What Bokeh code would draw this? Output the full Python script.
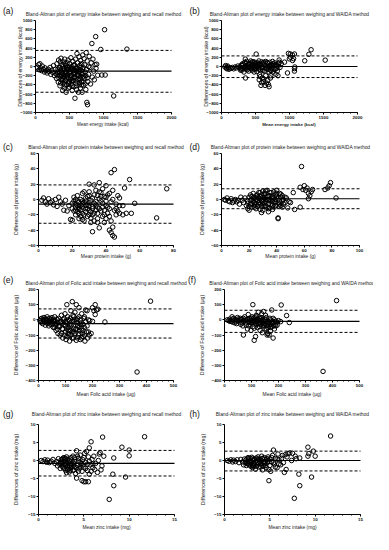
import math
from bokeh.plotting import figure
from bokeh.models import Label, FixedTicker, LinearAxis, Range1d
from bokeh.layouts import column, row
from bokeh.embed import file_html
from bokeh.resources import INLINE

FONT = "Liberation Sans"

# ---------------- data (mean of two methods, difference) ----------------
energy_recall_pts = [
    (30,-20),(45,40),(55,-70),(65,60),(75,-30),(90,-90),(100,10),(115,-60),(130,-120),(140,-30),
    (155,-90),(170,-140),(185,-60),(200,-110),(215,-20),(225,-170),(240,-80),(255,-130),(265,20),
    (280,-200),(290,-60),(300,-160),
    (310,-260),(315,60),(325,-120),(335,-340),(340,140),(350,-20),(355,-200),(360,-420),(370,-80),
    (375,180),(380,-290),(390,40),(395,-160),(400,-520),(405,-360),(410,100),(415,-230),(420,-40),
    (425,-470),(430,160),(435,-120),(440,-300),(445,20),(450,-560),(455,-190),(460,-400),(465,80),
    (470,-70),(475,-250),(480,140),(485,-340),(490,-10),(495,-150),(500,-450),(505,60),(510,-280),
    (515,-100),(520,190),(525,-380),(530,-200),(535,0),(540,-520),(545,-60),(550,110),(555,-310),
    (560,-150),(565,-440),(570,40),(575,-240),(580,-690),(585,-90),(590,160),(595,-360),(600,-30),
    (605,-500),(610,280),(615,-190),(620,80),(625,-280),(630,-560),(635,-120),(640,210),(645,-400),
    (650,20),(655,-220),(660,-470),(665,130),(670,-80),(675,-330),(680,60),(685,-560),(690,-180),
    (695,250),(700,-20),
    (705,-410),(715,170),(720,-260),(730,-120),(740,-500),(745,300),(750,-60),(755,-780),(760,120),
    (765,-830),(770,-330),(780,-170),(790,220),(800,-20),(810,-380),(820,80),(829,500),(835,-230),
    (845,160),(855,-100),(865,-290),(875,40),(885,650),(890,-40),(900,50),(915,-190),(960,370),
    (975,-185),(1016,800),(1025,-185),(1150,-640),(1344,378),
    (330,-60),(345,-250),(365,100),(385,-130),(400,-10),(420,-180),(440,60),(460,-230),(480,-60),
    (500,-120),(520,-40),(540,-300),(560,20),(580,-160),(600,-100),(620,-40),(640,-260),(660,-20),
    (700,-150),(720,40),(680,-400),(740,-200),(780,0),
    (360,-30),(380,-200),(400,-300),(410,-80),(430,-400),(450,-120),(470,-180),(490,-380),(510,-200),
    (530,-60),(550,-250),(570,-120),(590,-300),(610,-80),(630,-200),(650,-350),(670,-150),(690,-50),
    (710,-210),(450,-30),(390,-250),(500,-330),(560,-90),(620,-170),(520,-250),(470,-10),(430,-220),
    (350,-130),(580,-230),(640,-60),(660,-280),(600,-420),(540,-420),(480,-470),(420,-340),(370,-360),
    (320,-180),(700,-330),(760,-250),(730,-380),
]
energy_recall_lines = [-100, 350, -560]   # bias, upper LoA, lower LoA

energy_waida_pts = [
    (50,-10),(60,20),(70,-30),(80,-50),(90,10),(100,-20),(110,-60),(125,-30),(140,-40),(160,-20),
    (180,-50),(200,-10),(220,-30),(240,10),(260,-20),(280,-50),
    (290,30),(300,-80),(310,60),(320,-30),(330,-120),(340,90),(350,0),(360,-60),(370,110),(380,-20),
    (390,40),(400,-100),(410,70),(420,-40),(430,120),(440,10),(450,-80),(460,50),(470,-20),(480,100),
    (490,-60),(500,20),(510,270),(520,-110),(530,80),(540,-30),(550,120),(555,-290),(560,40),(570,-70),
    (580,-410),(590,100),(600,-20),(610,60),(620,-330),(630,-100),(640,20),(650,110),(660,-360),
    (670,-50),(680,70),(690,-390),(700,-440),(705,-10),(710,90),(720,-80),(725,-200),(730,40),
    (740,-30),(750,110),(760,-120),(770,20),(780,80),(790,-60),(800,-170),(810,30),(820,-100),
    (830,-200),(840,60),(847,140),(860,-20),(880,60),(350,160),(353,-250),(280,-80),(300,20),
    (450,100),(520,0),(600,-60),(700,-120),(650,-200),(600,-250),(560,-180),(760,60),(450,-30),
    (400,40),(480,-120),(540,60),(620,90),(680,-10),
    (300,-40),(320,40),(340,-20),(360,70),(380,-70),(400,0),(420,60),(440,-50),(460,100),(480,-10),
    (500,70),(510,-40),(530,20),(550,-60),(570,60),(590,-20),(610,-90),(630,50),(650,-30),(670,90),
    (690,-60),(710,20),(730,-90),(750,30),(770,-60),(790,40),(810,-40),(830,0),(850,90),(620,-270),
    (680,-300),(640,-410),(590,-350),(720,-250),(570,-220),
    (927,95),(970,-140),(984,286),(998,166),(1012,271),(1016,200),(1045,250),(1045,130),(1073,272),
    (1060,170),(1073,-46),(1073,-100),(1078,-10),(1224,124),(1285,265),(1318,364),(1525,138),
]
energy_waida_lines = [0, 230, -240]

protein_recall_pts = [
    (2,-1),(3,2),(4,-3),(5,-6),(6,1),(7,-4),(8,-2),(9,-7),(10,0),(11,-9),(12,3),(13,-3),(14,-6),
    (15,-14),(16,-1),(17,-15),(18,-8),(19,-26),
    (20,-5),(20,-27),(21,-15),(21,3),(22,-10),(22,-20),(23,5),(23,-2),(24,-12),(24,-25),(25,0),
    (25,-8),(26,-18),(26,8),(27,-4),(27,-28),(28,-12),(28,2),(29,-22),(29,-6),(30,10),(30,20),
    (30,-14),(31,-1),(31,-30),(32,-42),(32,-9),(33,6),(33,19),(33,-18),(34,-3),(34,12),(35,-25),
    (35,-10),(36,22),(36,1),(36,-37),(37,-15),(37,9),(38,-5),(38,14),(39,-20),(39,-30),(40,18),
    (40,3),(41,-10),(41,-18),(42,-40),(42,8),(43,35),(43,-43),(43,-3),(44,-36),(44,-47),(44,12),
    (45,-49),(45,39),(46,-20),(46,-6),(47,5),(48,-18),(48,-8),(50,-8),(51,15),(52,-18),(54,26),
    (55,-18),(57,-5),(70,-24),(76,14),
    (22,-6),(24,-3),(26,-10),(28,-8),(30,-4),(32,-12),(34,-7),(26,-2),(28,-16),(30,-20),(32,2),
    (35,5),(38,-10),(40,-8),(25,-22),(27,10),(29,4),(31,-24),(33,-28),(37,-2),(39,4),(42,-12),
    (45,-14),(40,-25),(47,-15),(50,-20),(35,-30),(23,-16),
    (20,-12),(21,-2),(22,-14),(23,-8),(24,-18),(25,-14),(26,-6),(27,-20),(28,-2),(29,-12),(30,-8),
    (31,-16),(32,-20),(33,-5),(34,-14),(35,-18),(36,-12),(37,4),(38,-22),(39,-14),(40,-2),(41,6),
    (42,-22),(43,-28),(44,0),(46,-12),(48,2),(36,10),(30,5),(26,-26),(24,-10),(22,0),
]
protein_recall_lines = [-6, 19, -31]

protein_waida_pts = [
    (2,0),(3,-1),(4,2),(5,-2),(6,-3),(7,1),(8,-4),(9,-2),(10,0),(11,-3),(12,-1),(13,-6),(14,3),
    (15,-1),(16,-4),(17,2),
    (18,-8),(19,-2),(19,-12),(20,3),(20,-14),(21,-6),(21,6),(22,0),(22,-10),(23,-3),(23,8),(24,-7),
    (24,2),(25,-12),(25,5),(26,-1),(26,-9),(27,9),(27,-4),(28,1),(28,-13),(29,-17),(29,6),(30,-6),
    (30,11),(30,-14),(31,2),(31,-9),(32,8),(32,-3),(33,12),(33,0),(34,-16),(34,-6),(35,5),(35,-11),
    (36,-1),(36,9),(37,3),(37,-13),(38,-4),(38,10),(39,0),(39,-8),(40,12),(40,4),(41,-25),(41,-24),
    (41,-5),(42,8),(42,-2),(43,3),(43,-8),(44,-10),(44,5),(45,0),(46,-4),(47,2),(48,-11),(49,-3),
    (50,-4),(52,9),(53,-13),(57,-10),(57,16),(58,43),(59,13),(60,18),(61,12),(62,15),(63,8),(63,1),
    (64,5),(65,10),(66,13),(75,13),(77,15),(78,18),(79,22),(83,2),
    (22,4),(24,-4),(26,3),(28,-6),(30,0),(32,-8),(34,4),(36,-6),(38,2),(25,-5),(27,2),(29,-2),
    (31,7),(33,-10),(35,0),(37,-8),(39,6),(42,-6),(30,-3),(34,-1),
    (19,-5),(20,-9),(21,-1),(22,-6),(23,2),(24,-10),(25,0),(26,6),(27,-7),(28,4),(29,-9),(30,3),
    (31,-4),(32,0),(33,4),(34,-12),(35,9),(36,2),(37,-2),(38,-10),(39,-3),(40,8),(41,1),(42,-9),
    (43,7),(44,-2),(45,-6),(46,3),(28,9),(32,11),
]
protein_waida_lines = [1, 14, -12]

folic_recall_pts = [
    (5,-5),(8,5),(10,-15),(12,10),(15,-25),(18,0),(20,15),(22,-10),(25,-35),(28,5),(30,-20),(32,20),
    (35,-5),(38,-40),(40,10),(42,-15),(45,-30),(48,0),(50,15),(52,-25),(55,-50),(58,-5),(60,20),
    (62,-35),(65,-70),(68,5),(70,-20),(72,-90),(75,10),(78,-45),(80,-100),
    (82,-10),(85,30),(88,-60),(90,-120),(92,0),(95,-30),(98,40),(100,-80),(102,-130),(105,100),
    (105,-20),(108,20),(110,-50),(112,-100),(115,-140),(118,10),(120,60),(122,-30),(125,120),
    (125,-80),(128,30),(130,-120),(132,-10),(135,50),(138,-60),(140,100),(140,-135),(142,0),
    (145,-40),(148,-100),(150,80),(150,20),(152,-70),(155,-130),(158,-20),(160,40),(162,-90),
    (165,-110),(168,10),(170,-50),(172,-140),(175,65),(178,-80),(180,60),(182,-120),(185,0),
    (188,-100),(190,-5),(195,-90),(200,80),(200,-10),(205,60),(210,100),(210,35),(215,65),(220,70),
    (246,-14),(365,-344),(415,123),
    (90,-20),(95,10),(100,-10),(105,-60),(110,0),(115,-30),(120,-100),(125,-10),(130,20),(135,-90),
    (140,-20),(145,10),(150,-50),(155,0),(160,-60),(165,-30),(170,20),(130,-60),(110,-90),(120,-70),
    (20,-10),(25,5),(30,0),(35,-25),(40,-10),(45,5),(50,-15),(55,0),(60,-10),(65,-30),(70,0),(75,-40),
    (80,-20),(85,-90),(90,-60),(95,-100),(100,-40),(105,-110),(110,-70),(115,-5),(120,-40),
    (125,-120),(130,-80),(135,0),(140,-60),(145,-120),(150,-90),(155,-30),(160,-120),(165,-70),
    (170,-100),(175,-10),(180,-40),(185,-80),(60,-50),(70,-60),
]
folic_recall_lines = [-25, 72, -120]

folic_waida_pts = [
    (10,0),(15,-5),(20,5),(25,-10),(28,20),(30,-15),(35,10),(38,-20),(40,0),(45,-25),(48,15),(50,-5),
    (55,-15),(58,10),(60,-30),(65,5),(68,-40),(70,-100),(72,-10),(75,20),(78,-20),(80,0),(85,-60),
    (88,35),(90,-15),
    (92,10),(95,-30),(98,-70),(100,-5),(102,20),(105,100),(105,-45),(108,0),(110,-135),(112,-20),
    (115,-110),(118,30),(120,-10),(122,-50),(125,50),(128,-20),(130,10),(132,-70),(135,-30),(138,40),
    (140,-85),(142,0),(145,55),(148,-40),(150,-10),(152,30),(155,-60),(158,-100),(160,-90),(162,-20),
    (165,-100),(168,10),(170,-50),(172,-30),(175,65),(178,-10),(180,-120),(182,-40),(185,0),(188,-30),
    (190,-40),(195,-15),(200,-5),(208,-12),(210,98),(230,28),(240,-18),(365,-340),(415,127),
    (95,5),(100,-20),(110,15),(115,-10),(120,5),(125,-25),(130,-5),(135,15),(140,-15),(145,-5),
    (150,-25),(155,15),(160,-5),(165,-40),(170,0),(175,-20),(180,10),(130,-45),(110,-55),(150,-60),
    (20,-10),(30,5),(40,-10),(50,5),(60,0),(65,-20),(70,10),(75,-5),(80,-35),(85,5),(90,-40),(95,-15),
    (100,10),(105,-20),(110,-5),(115,20),(120,-30),(125,0),(130,-20),(135,5),(140,-40),(145,-25),
    (150,5),(155,-35),(160,-50),(165,-15),(170,-75),(175,-45),(180,-20),(185,-60),(190,-10),(195,-35),
]
folic_waida_lines = [-10, 63, -83]

zinc_recall_pts = [
    (0.3,0),(0.5,-0.3),(0.7,0.2),(0.9,-0.5),(1.0,0.1),(1.2,-0.6),(1.4,-0.2),(1.6,0.3),(1.8,-0.8),
    (2.0,-0.3),(2.1,-1.5),(2.2,0.5),
    (2.3,-1.0),(2.4,-2.2),(2.5,0.2),(2.6,-0.6),(2.7,-1.8),(2.8,0.8),(2.9,-1.2),(3.0,-2.8),(3.0,-0.2),
    (3.1,1.0),(3.2,-1.6),(3.3,-0.5),(3.4,-3.2),(3.5,0.4),(3.6,-2.0),(3.7,-1.0),(3.8,1.2),(3.9,-2.6),
    (4.0,-0.3),(4.1,-3.6),(4.2,2.7),(4.2,-4.9),(4.3,-1.4),(4.4,0.6),(4.5,-2.3),(4.6,1.5),(4.7,-0.8),
    (4.8,-5.6),(4.8,-3.0),(4.9,0.2),(5.0,-5.9),(5.0,-1.8),(5.1,2.0),(5.2,-5.9),(5.2,-0.5),(5.3,2.5),
    (5.4,-2.8),(5.5,-5.9),(5.5,1.0),(5.6,3.5),(5.6,-3.8),(5.7,-1.2),(5.8,5.2),(5.9,0.3),(6.0,-2.0),
    (6.1,1.2),(6.2,-2.5),(6.3,-0.8),(6.5,-3.3),(6.6,0.0),(6.7,1.8),(6.8,2.2),(6.9,-2.6),(7.0,-1.5),
    (7.07,6.5),(7.2,1.2),(8.2,-3.8),(8.3,0.7),(8.3,-7.0),(7.8,-10.8),(9.2,3.7),(9.6,-4.6),(10.0,2.9),
    (10.0,1.3),(11.7,6.6),
    (2.5,-0.5),(2.8,-1.0),(3.0,-1.3),(3.2,0.2),(3.5,-1.0),(3.8,-0.5),(4.0,-1.8),(3.3,-2.4),(2.6,-1.6),
    (3.6,0.8),(4.4,-0.2),(4.6,-1.6),(3.1,-0.8),(2.9,0.4),(3.4,-1.5),
    (2.4,-0.8),(2.6,0.3),(2.8,-2.2),(3.0,0.6),(3.2,-2.6),(3.4,0.0),(3.6,-1.4),(3.8,-2.8),(4.0,0.8),
    (4.2,-2.0),(4.4,-3.0),(4.6,-0.4),(4.8,-1.2),(5.0,0.8),(5.2,-2.2),(5.4,-1.0),(5.6,-0.2),(5.8,-3.0),
    (6.0,-1.0),(3.1,-3.4),(2.7,0.6),(3.9,-0.9),(4.3,1.2),(3.5,-2.7),
]
zinc_recall_lines = [-0.8, 2.8, -4.3]

zinc_waida_pts = [
    (0.3,0),(0.5,-0.2),(0.7,0.2),(0.9,-0.4),(1.0,0.1),(1.2,-0.3),(1.4,0.2),(1.6,-0.6),(1.8,0.3),
    (2.0,-0.4),(2.1,-1.2),(2.2,0.4),
    (2.3,-0.6),(2.4,-1.4),(2.5,0.5),(2.6,-0.2),(2.7,-1.0),(2.8,0.6),(2.9,-1.6),(3.0,-0.4),(3.0,0.9),
    (3.1,-2.0),(3.2,0.2),(3.3,-1.1),(3.4,-2.4),(3.5,0.7),(3.6,-0.6),(3.7,1.0),(3.8,-1.8),(3.9,0.3),
    (4.0,-0.9),(4.1,1.2),(4.2,-2.6),(4.3,-0.3),(4.4,0.8),(4.5,-1.4),(4.6,0.2),(4.7,-0.7),(4.8,1.0),
    (4.9,-5.6),(4.9,-2.5),(5.0,0.4),(5.1,-3.0),(5.2,-0.4),(5.3,1.4),(5.4,2.9),(5.5,-1.0),(5.6,0.6),
    (5.8,-2.0),(5.9,1.8),(6.0,0.2),(6.2,-1.2),(6.4,1.4),(6.5,-0.6),(6.6,-3.3),(6.7,1.6),(6.8,-2.5),
    (6.9,1.0),(7.0,1.9),(7.2,2.1),(7.4,0.0),(7.5,2.0),(7.7,-10.5),(7.8,1.2),(7.9,0.5),(8.2,-3.8),
    (8.3,0.7),(8.3,-7.0),(9.2,1.2),(9.3,1.9),(9.2,3.7),(9.6,-4.6),(9.8,2.6),(10.0,1.2),(11.7,6.8),
    (2.5,-0.8),(2.8,-0.4),(3.2,-0.8),(3.5,-1.6),(3.8,0.4),(4.0,0.1),(4.3,-1.6),(3.3,0.4),(2.9,-0.2),
    (3.6,-1.2),(4.5,-0.4),(4.7,0.5),(3.1,0.6),(2.6,0.8),
    (2.4,0.2),(2.6,-1.0),(2.8,-1.3),(3.0,-1.0),(3.2,-1.6),(3.4,-0.4),(3.6,0.4),(3.8,-0.8),(4.0,-1.8),
    (4.2,0.6),(4.4,-0.8),(4.6,-2.0),(4.8,-0.2),(5.0,-1.4),(5.2,0.8),(5.4,-0.6),(5.6,-1.8),(5.8,0.4),
    (6.0,-1.0),(6.3,0.6),(3.1,-1.4),(2.7,-0.3),(3.9,-0.3),(4.1,-1.3),
]
zinc_waida_lines = [0, 2.6, -2.9]

# ticks (first and last tick = axis extent)
energy_xticks = [0, 500, 1000, 1500, 2000]
energy_yticks = [-1000, -800, -600, -400, -200, 0, 200, 400, 600, 800, 1000]
protein_recall_xticks = [0, 20, 40, 60, 80]
protein_waida_xticks = [0, 20, 40, 60, 80, 100]
protein_yticks = [-60, -40, -20, 0, 20, 40, 60]
folic_xticks = [0, 100, 200, 300, 400, 500]
folic_yticks = [-400, -300, -200, -100, 0, 100, 200]
zinc_xticks = [0, 5, 10, 15]
zinc_yticks = [-15, -10, -5, 0, 5, 10]

titles = [
    "Bland-Altman plot of energy intake between weighing and recall method",
    "Bland-Altman plot of energy intake between weighing and WAIDA method",
    "Bland-Altman plot of protein intake between weighing and recall method",
    "Bland-Altman plot of protein intake between weighing and WAIDA method",
    "Bland-Altman plot of Folic acid intake between weighing and recall method",
    "Bland-Altman plot of Folic acid intake between weighing and WAIDA method",
    "Bland-Altman plot of zinc intake between weighing and recall method",
    "Bland-Altman plot of zinc intake between weighing and WAIDA method",
]
letters = ["(a)", "(b)", "(c)", "(d)", "(e)", "(f)", "(g)", "(h)"]
xlabels = ["Mean energy  intake (kcal)", "Mean energy  intake (kcal)",
           "Mean protein intake (g)", "Mean protein intake (g)",
           "Mean Folic acid intake (\u03bcg)", "Mean Folic acid intake (\u03bcg)",
           "Mean zinc intake (mg)", "Mean zinc intake (mg)"]
ylabels = ["Differences of energy intake (kcal)", "Differences of energy intake (kcal)",
           "Difference of protein intake (g)", "Difference of protein intake (g)",
           "Difference of Folic acid intake (\u03bcg)", "Difference of Folic acid intake (\u03bcg)",
           "Differences of zinc intake (mg)", "Differences of zinc intake (mg)"]

PANEL_H = 133


def make_panel(pts, lines, xt, yt, title, letter, xlabel, ylabel,
               W, L, R, T, B, letter_xy, title_y, ylab_d, xlab_d,
               xlab_size="4.9px", xlab_bold=False, ylab_size="5.3px"):
    x0, x1 = xt[0], xt[-1]
    y0, y1 = yt[0], yt[-1]
    FW = W - L - R
    FH = PANEL_H - T - B
    sx = (x1 - x0) / FW
    sy = (y1 - y0) / FH
    p = figure(width=W, height=PANEL_H,
               x_range=Range1d(x0 - L * sx, x1 + R * sx),
               y_range=Range1d(y0 - B * sy, y1 + T * sy),
               output_backend="svg", toolbar_location=None,
               x_axis_type=None, y_axis_type=None,
               min_border_left=0, min_border_right=0, min_border_top=0, min_border_bottom=0)
    p.outline_line_color = None
    p.grid.visible = False
    p.background_fill_color = "white"
    p.border_fill_color = "white"

    # Bland-Altman reference lines
    bias, upper, lower = lines
    p.segment(x0=[x0], y0=[bias], x1=[x1], y1=[bias], line_color="black", line_width=1.1)
    p.segment(x0=[x0, x0], y0=[upper, lower], x1=[x1, x1], y1=[upper, lower],
              line_color="black", line_width=1.0, line_dash="3 2")

    xs = [q[0] for q in pts]
    ys = [q[1] for q in pts]
    p.scatter(xs, ys, marker="circle", size=4.5, fill_color=None,
              line_color="black", line_width=1.0)

    step = (xt[1] - xt[0]) / 5.0
    minor = [xt[0] + step * k for k in range(int(round((x1 - x0) / step)) + 1)]
    xax = LinearAxis(fixed_location=y0, bounds=(x0, x1),
                     ticker=FixedTicker(ticks=xt, minor_ticks=minor))
    yax = LinearAxis(fixed_location=x0, bounds=(y0, y1),
                     ticker=FixedTicker(ticks=yt, minor_ticks=[]))
    for ax in (xax, yax):
        ax.axis_line_color = "black"
        ax.axis_line_width = 1
        ax.major_tick_line_color = "black"
        ax.major_tick_in = 0
        ax.major_tick_out = 2
        ax.minor_tick_in = 0
        ax.minor_tick_out = 1
        ax.minor_tick_line_color = "black"
        ax.major_label_text_font = FONT
        ax.major_label_text_font_size = "4.4px"
        ax.major_label_text_font_style = "bold"
        ax.major_label_text_color = "#111111"
        ax.major_label_standoff = 1
    yax.minor_tick_line_color = None
    p.add_layout(xax, "below")
    p.add_layout(yax, "left")

    # texts
    p.add_layout(Label(x=(x0 + x1) / 2.0, y=y1, y_offset=T - title_y, text=title,
                       text_align="center", text_baseline="middle",
                       text_font=FONT, text_font_size="4.9px", text_color="#222222"))
    p.add_layout(Label(x=x0, y=y1, x_offset=letter_xy[0] - L, y_offset=T - letter_xy[1],
                       text=letter, text_align="left", text_baseline="middle",
                       text_font=FONT, text_font_size="8.5px", text_color="#111111"))
    p.add_layout(Label(x=(x0 + x1) / 2.0, y=y0, y_offset=-xlab_d, text=xlabel,
                       text_align="center", text_baseline="middle",
                       text_font=FONT, text_font_size=xlab_size,
                       text_font_style="bold" if xlab_bold else "normal",
                       text_color="#222222"))
    p.add_layout(Label(x=x0, y=(y0 + y1) / 2.0, x_offset=-ylab_d, text=ylabel,
                       angle=math.pi / 2, text_align="center", text_baseline="middle",
                       text_font=FONT, text_font_size=ylab_size, text_color="#222222"))
    return p


pa = make_panel(energy_recall_pts, energy_recall_lines, energy_xticks, energy_yticks,
                titles[0], letters[0], xlabels[0], ylabels[0],
                187, 35, 16, 20, 21, (2.5, 10.7), 14.3, 15.5, 11.6, xlab_size="4.5px")
pb = make_panel(energy_waida_pts, energy_waida_lines, energy_xticks, energy_yticks,
                titles[1], letters[1], xlabels[1], ylabels[1],
                186, 34, 16, 20, 21, (2, 10.7), 14.3, 16, 12.3, xlab_size="4.4px", xlab_bold=True)
pc = make_panel(protein_recall_pts, protein_recall_lines, protein_recall_xticks, protein_yticks,
                titles[2], letters[2], xlabels[2], ylabels[2],
                187, 38, 14, 20, 21, (2.5, 13.0), 14.3, 22.4, 11.3)
pd_ = make_panel(protein_waida_pts, protein_waida_lines, protein_waida_xticks, protein_yticks,
                 titles[3], letters[3], xlabels[3], ylabels[3],
                 186, 34, 14, 20, 21, (2, 13.5), 14.3, 19.2, 11.3)
pe = make_panel(folic_recall_pts, folic_recall_lines, folic_xticks, folic_yticks,
                titles[4], letters[4], xlabels[4], ylabels[4],
                187, 38, 14, 23, 19, (2.5, 13.0), 16.8, 22.4, 13.6)
pf = make_panel(folic_waida_pts, folic_waida_lines, folic_xticks, folic_yticks,
                titles[5], letters[5], xlabels[5], ylabels[5],
                186, 37, 14, 23, 19, (0.5, 13.3), 16.8, 22.4, 13.6)
pg = make_panel(zinc_recall_pts, zinc_recall_lines, zinc_xticks, zinc_yticks,
                titles[6], letters[6], xlabels[6], ylabels[6],
                187, 38, 13, 25, 18, (2.5, 14.3), 14.9, 22.4, 13.3)
ph = make_panel(zinc_waida_pts, zinc_waida_lines, zinc_xticks, zinc_yticks,
                titles[7], letters[7], xlabels[7], ylabels[7],
                186, 37, 13, 25, 18, (2, 14.3), 14.9, 22.0, 13.3)

layout = column(row(pa, pb, spacing=0), row(pc, pd_, spacing=0),
                row(pe, pf, spacing=0), row(pg, ph, spacing=0), spacing=0)

open("out.html", "w").write(file_html(layout, INLINE))
